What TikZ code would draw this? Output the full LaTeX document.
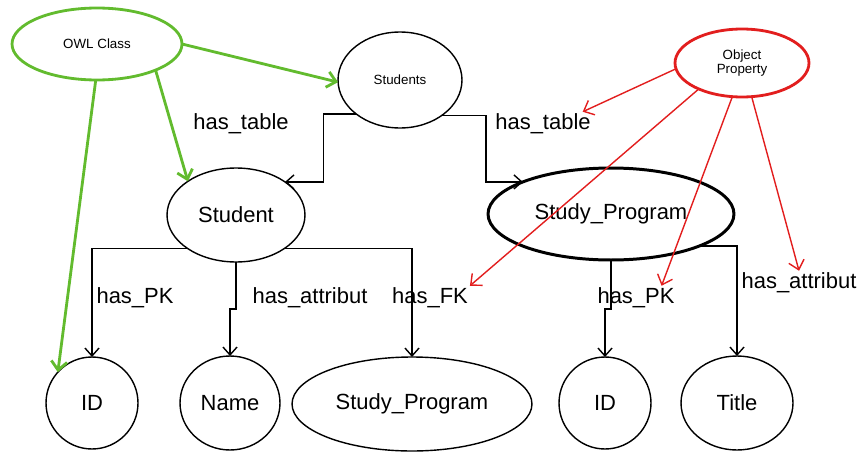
\documentclass[tikz,border=0pt]{standalone}
\usepackage{fontspec}
\setmainfont{Liberation Sans}
\usetikzlibrary{shapes.geometric,arrows.meta}
\definecolor{owlgreen}{RGB}{98,187,46}
\definecolor{propred}{RGB}{226,30,30}
\tikzset{
  ent/.style={ellipse,draw,line width=0.8pt,inner sep=0pt,outer sep=0pt,
    font=\fontsize{12.5}{14}\selectfont},
  meta/.style={ellipse,draw,line width=1.6pt,inner sep=0pt,outer sep=0pt,
    align=center,font=\fontsize{7.6}{8.2}\selectfont},
  lbl/.style={inner sep=1pt,font=\fontsize{12.5}{14}\selectfont},
  conn/.style={line width=0.8pt,-{Straight Barb[length=4.5pt,width=8pt]}},
  isa/.style={owlgreen,line width=1.6pt,-{Straight Barb[length=5pt,width=9pt,line width=1.6pt]}},
  prop/.style={propred,line width=0.8pt,-{Straight Barb[length=5pt,width=9pt]}}
}

\begin{document}
\begin{tikzpicture}[x=0.02cm,y=-0.02cm]
\useasboundingbox (0,0) rectangle (865,453);

% Meta classes
\node[meta,owlgreen,text=black,minimum width=3.4cm,minimum height=1.44cm] (owl) at (97,44) {OWL Class};
\node[meta,propred,text=black,minimum width=2.68cm,minimum height=1.36cm] (op) at (742,63) {Object\\Property};

% Table and its classes
\node[ent,font=\fontsize{7.6}{8.2}\selectfont,minimum width=2.48cm,minimum height=1.92cm] (tbl) at (400,80) {Students};
\node[ent,minimum width=2.76cm,minimum height=1.88cm] (stu) at (236,215) {Student};
\node[ent,line width=1.7pt,minimum width=4.92cm,minimum height=1.84cm] (prog) at (611,214) {Study\_Program};

% Columns
\node[ent,minimum width=1.84cm,minimum height=1.84cm] (idA) at (92,403) {ID};
\node[ent,minimum width=2.0cm,minimum height=1.88cm] (nm) at (230,403) {Name};
\node[ent,minimum width=4.8cm,minimum height=1.88cm] (fk) at (412,404) {Study\_Program};
\node[ent,minimum width=1.84cm,minimum height=1.84cm] (idB) at (605,403) {ID};
\node[ent,minimum width=2.24cm,minimum height=1.88cm] (ttl) at (737,403) {Title};

% Edge labels
\node[lbl] (tblA) at (241,124) {has\_table};
\node[lbl] (tblB) at (543,124) {has\_table};
\node[lbl] (pkA) at (135,298) {has\_PK};
\node[lbl] (atA) at (310,298) {has\_attribut};
\node[lbl] (fkl) at (430,298) {has\_FK};
\node[lbl] (pkB) at (636,298) {has\_PK};
\node[lbl] (atB) at (799,283) {has\_attribut};

% Table to classes
\draw[conn] (tbl.218) -- ++(-33,0) |- (stu.34);
\draw[conn] (tbl.-40) -- ++(44,0) |- (prog.160);

% Classes to columns
\draw[conn] (stu.215) -| (idA.north);
\draw[conn] (stu.south) -- ++(0,47) -| (nm.north);
\draw[conn] (stu.-35) -| (fk.north);
\draw[conn] (prog.south) -- ++(0,49) -| (idB.north);
\draw[conn] (prog.-20) -| (ttl.north);

% Instances of OWL class
\draw[isa] (owl.east) -- (tbl.182);
\draw[isa] (owl.-24) -- (stu.145);
\draw[isa] (owl.-92) -- (idA.138);

% Object properties
\draw[prop] (op.185) -- ([xshift=-0.2cm]tblB.north east);
\draw[prop] (op.211) -- (fkl.north east);
\draw[prop] (op.254) -- ([xshift=-0.3cm]pkB.north east);
\draw[prop] (op.286) -- (atB.north);
\end{tikzpicture}
\end{document}
